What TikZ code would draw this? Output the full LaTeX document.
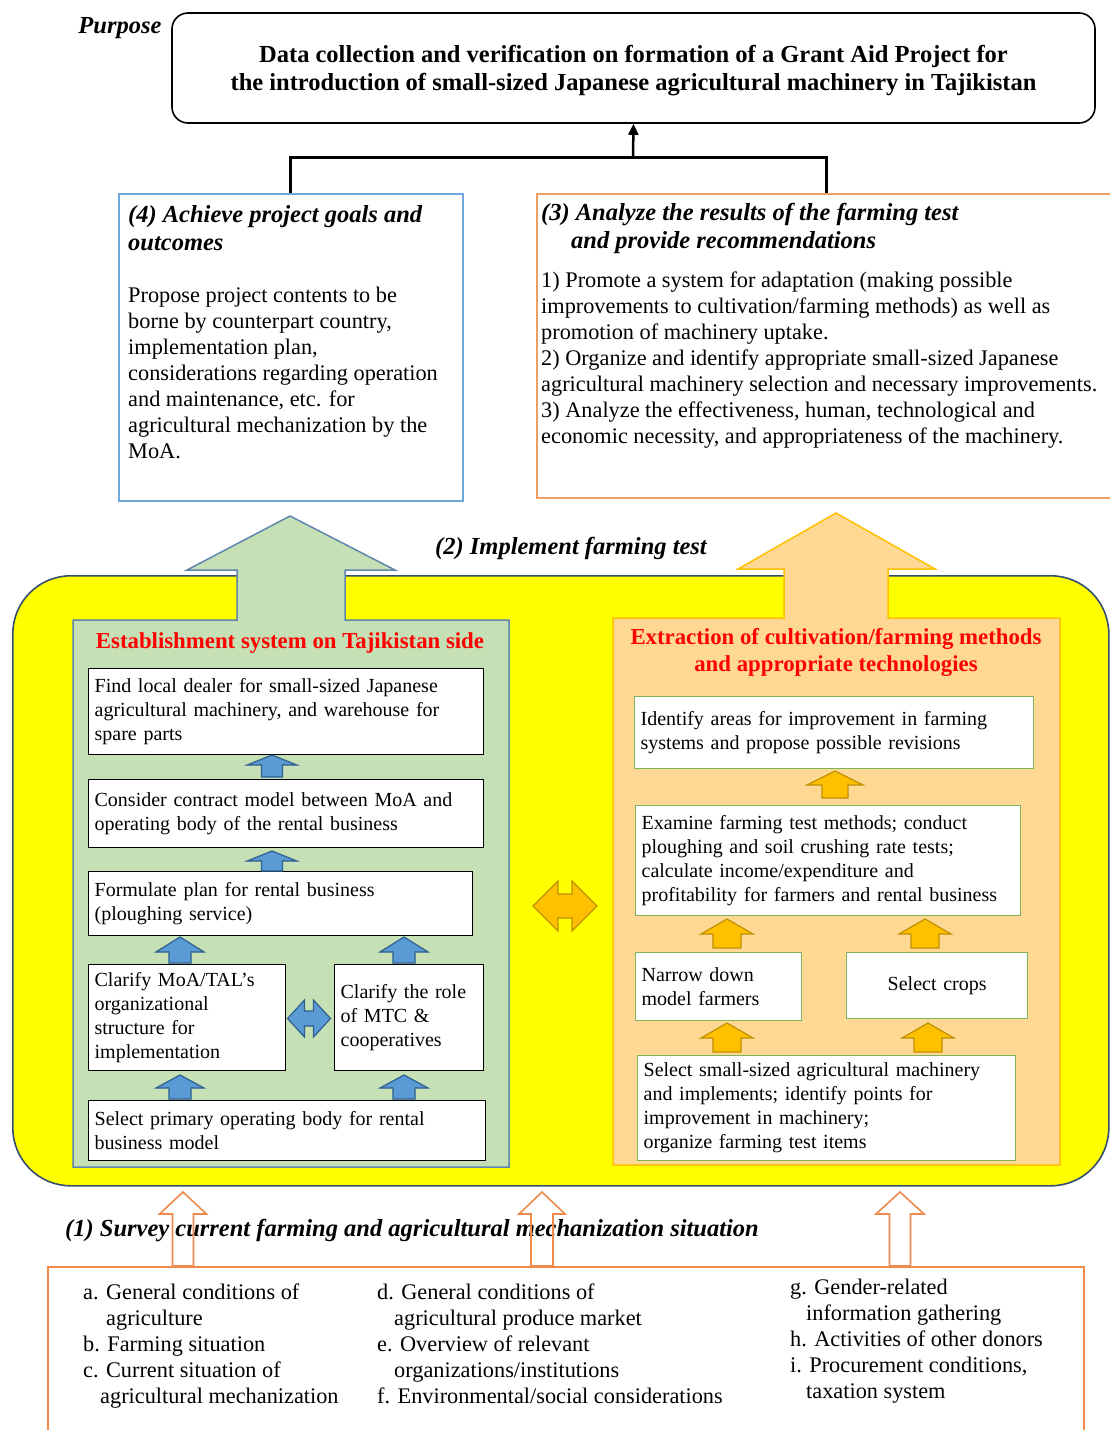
\documentclass[tikz,border=0pt]{standalone}
\usepackage{fontspec}
\setmainfont{Liberation Serif}
\usetikzlibrary{arrows.meta}

\definecolor{boxblue}{HTML}{6FA8DC}
\definecolor{boxorange}{HTML}{F19C65}
\definecolor{fieldline}{HTML}{34506E}
\definecolor{panelgreen}{HTML}{C5E0B4}
\definecolor{panelline}{HTML}{5F86AE}
\definecolor{panelorange}{HTML}{FFD894}
\definecolor{gold}{HTML}{FFC000}
\definecolor{darkgold}{HTML}{BF9000}
\definecolor{blkblue}{HTML}{5B9BD5}
\definecolor{blkblueline}{HTML}{2F5F8F}
\definecolor{taskgreen}{HTML}{7DB55A}
\definecolor{surveyline}{HTML}{F08A4B}
\definecolor{fieldyellow}{HTML}{FFFF00}

\newcommand{\ftitle}{\bfseries\fontsize{24.5}{28}\selectfont}
\newcommand{\fhead}{\bfseries\itshape\fontsize{24.5}{28}\selectfont}
\newcommand{\fbody}{\fontsize{22.3}{26}\selectfont}
\newcommand{\finner}{\fontsize{20}{24}\selectfont}
\newcommand{\fred}{\bfseries\fontsize{22.8}{27}\selectfont\color{red}}

% block arrows: style, x, y top, y bottom, half head, half shaft, head length
\newcommand{\upblk}[7]{\draw[#1] (#2-#6,#4) -- (#2-#6,#3+#7) -- (#2-#5,#3+#7) -- (#2,#3) -- (#2+#5,#3+#7) -- (#2+#6,#3+#7) -- (#2+#6,#4) -- cycle;}
% style, x, y, half length, half head, half shaft, head length
\newcommand{\dblblk}[7]{\draw[#1] (#2-#4,#3) -- (#2-#4+#7,#3-#5) -- (#2-#4+#7,#3-#6) -- (#2+#4-#7,#3-#6) -- (#2+#4-#7,#3-#5) -- (#2+#4,#3) -- (#2+#4-#7,#3+#5) -- (#2+#4-#7,#3+#6) -- (#2-#4+#7,#3+#6) -- (#2-#4+#7,#3+#5) -- cycle;}

\tikzstyle{txt}= [inner sep=0pt, align=left, anchor=west]
\tikzstyle{head}= [inner sep=0pt, font=\fhead]
\tikzstyle{purpose}= [rectangle, rounded corners=16pt, draw=black, line width=1.6pt, minimum width=923pt, minimum height=110pt, align=center, font=\ftitle]
\tikzstyle{bluebox}= [rectangle, draw=boxblue, line width=1.5pt, anchor=north west]
\tikzstyle{orangebox}= [rectangle, draw=boxorange, line width=1.5pt, anchor=north west]
\tikzstyle{field}= [rectangle, rounded corners=58pt, draw=fieldline, fill=fieldyellow, line width=1.6pt, anchor=north west]
\tikzstyle{greenpanel}= [draw=panelline, fill=panelgreen, line width=1.5pt]
\tikzstyle{orangepanel}= [draw=gold, fill=panelorange, line width=1.5pt]
\tikzstyle{task}= [rectangle, draw=black, line width=1.3pt, fill=white, anchor=north west, inner xsep=6pt, inner ysep=0pt, align=left, font=\finner]
\tikzstyle{gtask}= [task, draw=taskgreen]
\tikzstyle{blueblk}= [draw=blkblueline, fill=blkblue, line width=1.2pt]
\tikzstyle{goldblk}= [draw=darkgold, fill=gold, line width=1.2pt]
\tikzstyle{surveyblk}= [draw=surveyline, line width=1.6pt]

\begin{document}
\begin{tikzpicture}[x=1pt,y=-1pt]
\useasboundingbox (0,0) rectangle (1110,1430);

		\node (purposelabel) at (120,28) [head] {Purpose};
		\node (goal) at (633.5,68) [purpose] {};
		\node (goaltext) at (633.5,71) [font=\ftitle, align=center, inner sep=0pt] {Data collection and verification on formation of a Grant Aid Project for\\the introduction of small-sized Japanese agricultural machinery in Tajikistan};

		\node (b4) at (118,193) [bluebox, minimum width=344pt, minimum height=307pt] {};
		\node (b4head) at (128,228) [txt, font=\fhead] {(4) Achieve project goals and\\outcomes};
		\node (b4body) at (128,373) [txt, font=\fbody] {Propose project contents to be\\borne by counterpart country,\\implementation plan,\\considerations regarding operation\\and maintenance, etc. for\\agricultural mechanization by the\\MoA.};

		\node (b3) at (536,193) [orangebox, minimum width=580pt, minimum height=304pt] {};
		\node (b3head) at (541,228) [txt, font=\fhead] {(3) Analyze the results of the farming test\\\hspace*{30pt}and provide recommendations};
		\node (b3body) at (541,360) [txt, font=\fbody] {1) Promote a system for adaptation (making possible\\improvements to cultivation/farming methods) as well as\\promotion of machinery uptake.\\2) Organize and identify appropriate small-sized Japanese\\agricultural machinery selection and necessary improvements.\\3) Analyze the effectiveness, human, technological and\\economic necessity, and appropriateness of the machinery.};

		\coordinate (join) at (633,157);
		\draw[line width=3pt] (b4.north) -- ++(0,-36) -| (b3.north);
		\draw[line width=2.5pt,-{Triangle[width=10pt,length=11pt]}] (join) -- (goal.south);

		\node (field) at (12,575) [field, minimum width=1096pt, minimum height=610pt] {};
		\node (implement) at (571,548) [head] {(2) Implement farming test};

		\draw[greenpanel] (73,1167) -- (73,620) -- (237,620) -- (237,570) -- (187,570) -- (290,516) -- (395,570) -- (345,570) -- (345,620) -- (509,620) -- (509,1167) -- cycle;
		\draw[orangepanel] (613,1165) -- (613,618) -- (784,618) -- (784,569) -- (738,569) -- (836,513) -- (935,569) -- (888,569) -- (888,618) -- (1060,618) -- (1060,1165) -- cycle;

		\node (lefttitle) at (290,643) [font=\fred] {Establishment system on Tajikistan side};
		\node (righttitle) at (836,652) [font=\fred, align=center] {Extraction of cultivation/farming methods\\and appropriate technologies};

		\node (dealer) at (88,668) [task, minimum width=395pt, minimum height=86pt, text width=383pt] {Find local dealer for small-sized Japanese\\agricultural machinery, and warehouse for\\spare parts};
		\node (contract) at (88,779) [task, minimum width=395pt, minimum height=68pt, text width=383pt] {Consider contract model between MoA and\\operating body of the rental business};
		\node (rental) at (88,871) [task, minimum width=384pt, minimum height=64pt, text width=372pt] {Formulate plan for rental business\\(ploughing service)};
		\node (moa) at (88,964) [task, minimum width=197pt, minimum height=106pt, text width=185pt] {Clarify MoA/TAL’s\\organizational\\structure for\\implementation};
		\node (mtc) at (334,964) [task, minimum width=149pt, minimum height=106pt, text width=137pt] {Clarify the role\\of MTC \&\\cooperatives};
		\node (primary) at (88,1100) [task, minimum width=397pt, minimum height=60pt, text width=385pt] {Select primary operating body for rental\\business model};

		\upblk{blueblk}{272}{755}{777}{25}{10.5}{10}
		\upblk{blueblk}{272}{851}{871}{25}{10.5}{10}
		\upblk{blueblk}{180}{937}{963}{24}{11}{15}
		\upblk{blueblk}{404}{937}{963}{24}{11}{15}
		\upblk{blueblk}{180}{1075}{1099}{24}{11}{13}
		\upblk{blueblk}{404}{1075}{1099}{24}{11}{13}
		\dblblk{blueblk}{309}{1018.5}{21.5}{18.5}{7.5}{17}

		\node (identify) at (634,696) [gtask, minimum width=399pt, minimum height=72pt, text width=387pt] {Identify areas for improvement in farming\\systems and propose possible revisions};
		\node (examine) at (635,805) [gtask, minimum width=385pt, minimum height=110pt, text width=373pt] {Examine farming test methods; conduct\\ploughing and soil crushing rate tests;\\calculate income/expenditure and\\profitability for farmers and rental business};
		\node (farmers) at (635,952) [gtask, minimum width=166pt, minimum height=68pt, text width=154pt] {Narrow down\\model farmers};
		\node (crops) at (846,952) [gtask, minimum width=181pt, minimum height=66pt, text width=169pt, align=center] {Select crops};
		\node (machinery) at (637,1055) [gtask, minimum width=378pt, minimum height=105pt, text width=366pt] {Select small-sized agricultural machinery\\and implements; identify points for\\improvement in machinery;\\organize farming test items};

		\upblk{goldblk}{835}{771}{798}{28}{13}{14}
		\upblk{goldblk}{727}{919}{948}{26}{14}{15}
		\upblk{goldblk}{925}{919}{948}{26}{14}{15}
		\upblk{goldblk}{727}{1023}{1052}{26}{14}{15}
		\upblk{goldblk}{928}{1023}{1052}{26}{14}{15}
		\dblblk{goldblk}{565}{906}{32}{25}{12}{25}

		\node (survey) at (65,1231) [head, anchor=west] {(1) Survey current farming and agricultural mechanization situation};
		\node (surveybox) at (47,1266) [rectangle, draw=surveyline, line width=1.6pt, anchor=north west, minimum width=1036pt, minimum height=200pt] {};
		\node (cola) at (83,1346) [txt, font=\fbody] {a. General conditions of\\\hspace*{23pt}agriculture\\b. Farming situation\\c. Current situation of\\\hspace*{17pt}agricultural mechanization};
		\node (cold) at (377,1344) [txt, font=\fbody] {d. General conditions of\\\hspace*{17pt}agricultural produce market\\e. Overview of relevant\\\hspace*{17pt}organizations/institutions\\f. Environmental/social considerations};
		\node (colg) at (790,1341) [txt, font=\fbody] {g. Gender-related\\\hspace*{16pt}information gathering\\h. Activities of other donors\\i. Procurement conditions,\\\hspace*{16pt}taxation system};

		\upblk{surveyblk}{183}{1192}{1266}{23.5}{10.5}{22}
		\upblk{surveyblk}{542}{1192}{1266}{23}{11}{22}
		\upblk{surveyblk}{900}{1192}{1266}{24}{10.5}{22}

\end{tikzpicture}
\end{document}
